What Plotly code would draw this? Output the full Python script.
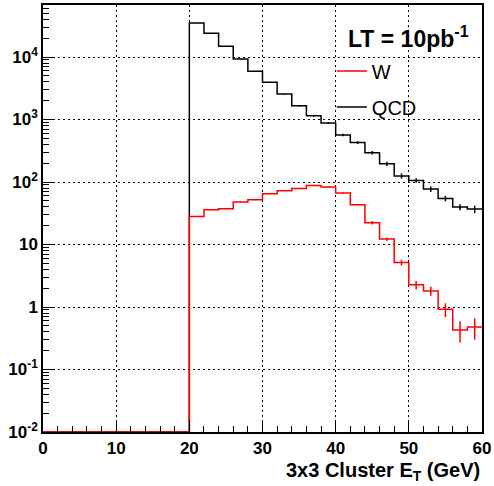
import plotly.graph_objects as go

# ---------------- data ----------------
bin_edges = list(range(0, 62, 2))  # 0..60, 2 GeV bins
qcd_counts = [0]*10 + [35000, 23900, 14800, 9300, 5900, 3930, 2560, 1660, 1150, 880,
                       565, 427, 295, 195, 125, 106, 77, 54.6, 39.7, 36.9]
qcd_errors = [0]*10 + [200, 170, 130, 100, 80, 65, 50, 40, 33, 28,
                       26, 23, 19, 15, 12, 9, 8, 5.5, 4.5, 5]
w_counts = [0]*10 + [28, 36, 37.4, 47.9, 52, 65, 72.6, 79, 88, 83,
                     66.7, 43.4, 22.3, 12.2, 5.15, 2.26, 1.81, 0.92, 0.43, 0.48]
w_errors = [0]*10 + [0.6, 0.7, 0.7, 0.8, 0.9, 1.0, 1.0, 1.1, 1.2, 1.1,
                     1.0, 1.0, 1.5, 0.8, 0.55, 0.35, 0.3, 0.23, 0.16, 0.18]
ytick_vals = [1e-2, 1e-1, 1, 10, 1e2, 1e3, 1e4]
ytick_text = ["10<sup>-2</sup>", "10<sup>-1</sup>", "1", "10",
              "10<sup>2</sup>", "10<sup>3</sup>", "10<sup>4</sup>"]
xtick_vals = [0, 10, 20, 30, 40, 50, 60]
y_min_exp, y_max_exp = -2, 4.832
y_floor = 10 ** y_min_exp
y_minor_vals = [m * 10 ** e for e in range(-2, 5) for m in range(2, 10)]

FONT = "Liberation Sans, Arial, Helvetica, sans-serif"


def step_xy(counts):
    ys = [c if c > 0 else y_floor for c in counts]
    return bin_edges, ys + [ys[-1]]


centers = [(bin_edges[i] + bin_edges[i+1]) / 2 for i in range(len(bin_edges) - 1)]

fig = go.Figure()

for name, counts, errs, color in [("QCD", qcd_counts, qcd_errors, "black"),
                                   ("W", w_counts, w_errors, "red")]:
    xs, ys = step_xy(counts)
    fig.add_trace(go.Scatter(x=xs, y=ys, mode="lines", line_shape="hv",
                             line=dict(color=color, width=1.5), name=name,
                             legendgroup=name, showlegend=False, hoverinfo="skip"))
    ex = [c for c, v in zip(centers, counts) if v > 0]
    ey = [v for v in counts if v > 0]
    ee = [e for e, v in zip(errs, counts) if v > 0]
    fig.add_trace(go.Scatter(x=ex, y=ey, mode="markers",
                             marker=dict(size=1, color=color, opacity=0),
                             error_y=dict(type="data", array=ee, color=color,
                                          thickness=1.5, width=0, visible=True),
                             showlegend=False, hoverinfo="skip"))

# legend entries (W first, QCD second)
for name, color in [("W", "red"), ("QCD", "black")]:
    fig.add_trace(go.Scatter(x=[None], y=[None], mode="lines", name=name,
                             legendgroup=name, line=dict(color=color, width=1.5)))

GRID = dict(showgrid=True, gridcolor="black", griddash="2px,3px", gridwidth=1.3)

fig.update_layout(
    width=494, height=486,
    margin=dict(l=43, r=12, t=5, b=54, autoexpand=False),
    paper_bgcolor="white", plot_bgcolor="white",
    font=dict(family=FONT, color="black"),
    showlegend=True,
    legend=dict(x=0.658, y=0.891, xanchor="left", yanchor="top",
                bgcolor="rgba(0,0,0,0)", font=dict(size=20, family=FONT),
                itemwidth=30, tracegroupgap=7, traceorder="grouped"),
    xaxis=dict(range=[0, 60], tickvals=xtick_vals, ticks="inside", ticklen=12,
               tickwidth=1, tickcolor="black", automargin=False,
               minor=dict(tickmode="linear", tick0=0, dtick=2, ticks="inside", ticklen=6,
                          tickcolor="black", showgrid=False),
               showline=True, linecolor="black", linewidth=1.5, mirror=True,
               tickfont=dict(size=17, family=FONT, weight="bold"),
               zeroline=False, **GRID),
    yaxis=dict(type="log", range=[y_min_exp, y_max_exp], tickvals=ytick_vals,
               ticktext=ytick_text, ticks="inside", ticklen=11, tickwidth=1,
               tickcolor="black", automargin=False,
               minor=dict(tickmode="array", tickvals=y_minor_vals, ticks="inside",
                          ticklen=6, tickcolor="black", showgrid=False),
               showline=True, linecolor="black", linewidth=1.5, mirror=True,
               tickfont=dict(size=17, family=FONT, weight="bold"),
               zeroline=False, **GRID),
    annotations=[dict(text="<b>LT = 10pb<sup>-1</sup></b>", x=0.975, y=0.966,
                      xref="paper", yref="paper", xanchor="right", yanchor="top",
                      showarrow=False, font=dict(size=23, family=FONT)),
                 dict(text="<b>3x3 Cluster E<sub>T</sub> (GeV)</b>", x=1.0, y=-0.058,
                      xref="paper", yref="paper", xanchor="right", yanchor="top",
                      showarrow=False, font=dict(size=20, family=FONT))],
)

fig.write_html("out.html", config={"displayModeBar": False},
               post_script="document.body.style.margin='0';")
